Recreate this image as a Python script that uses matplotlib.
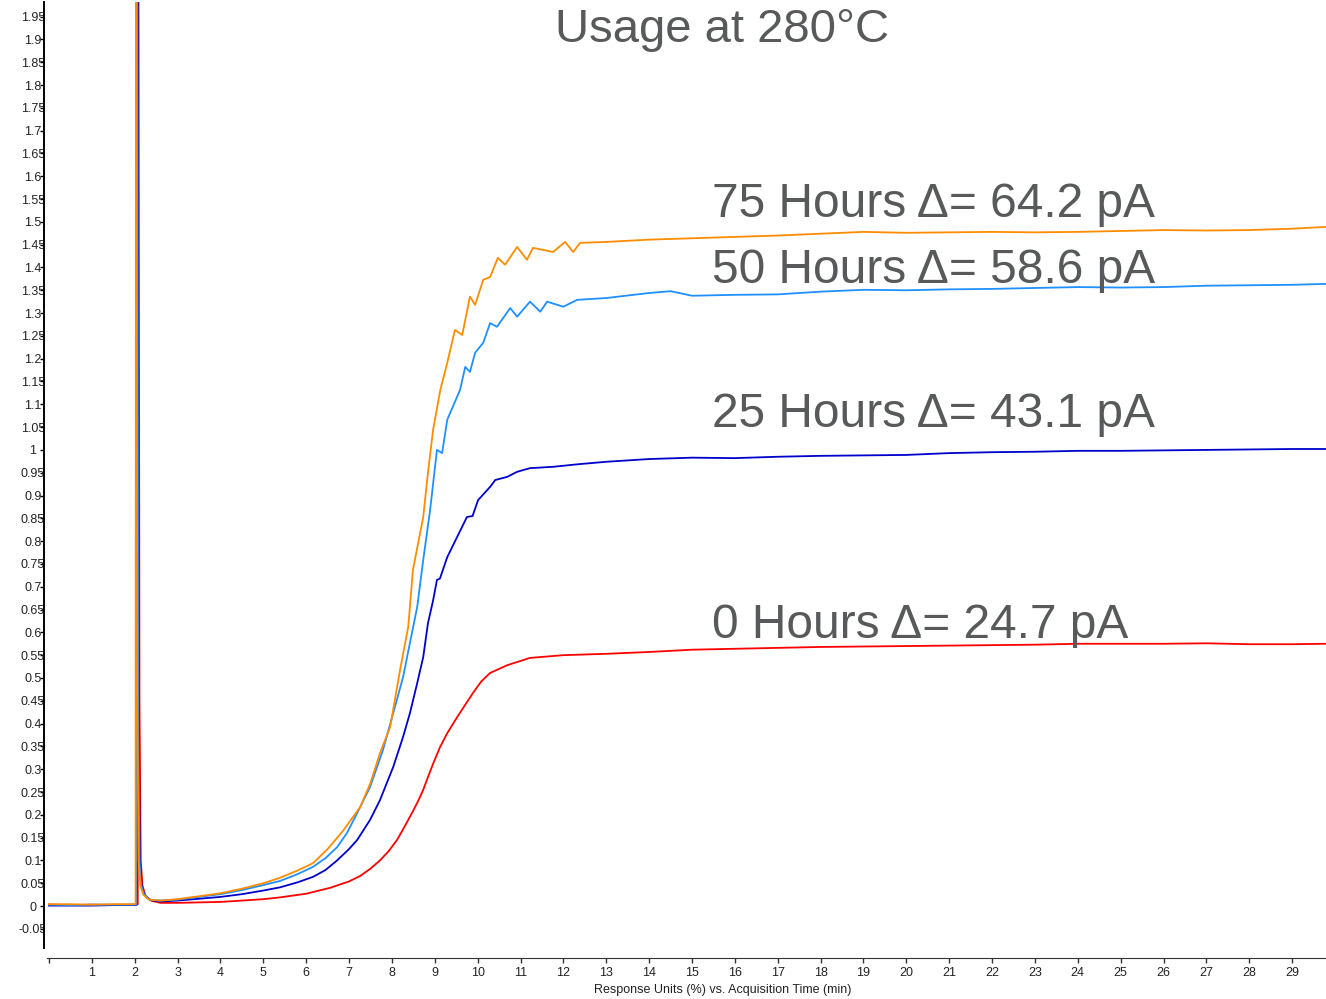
import matplotlib
matplotlib.use("Agg")
import matplotlib.pyplot as plt
import matplotlib.patches as mpatches

plt.rcParams['font.family'] = ['Liberation Sans', 'DejaVu Sans']

# 0 Hours (red)
red_x = [0, 0.5, 1.0, 1.5, 2.0, 2.07, 2.08, 2.11, 2.14, 2.18, 2.25, 2.38, 2.6, 3.0, 4.0, 4.5, 5.0,
         5.39, 6.0, 6.56, 7.0, 7.26, 7.5, 7.72, 7.92, 8.12, 8.3, 8.49, 8.62, 8.73, 8.85, 8.96,
         9.12, 9.29, 9.52, 9.7, 9.89, 10.08, 10.29, 10.69, 11.22, 12, 13, 14, 15, 16, 17, 18,
         19, 20, 21, 22, 23, 24, 25, 26, 27, 28, 29, 29.8]
red_y = [0.003, 0.002, 0.003, 0.002, 0.003, 0.004, 2.6, 0.45, 0.1, 0.045, 0.022, 0.012, 0.007,
         0.007, 0.009, 0.012, 0.015, 0.019, 0.027, 0.040, 0.054, 0.066, 0.082, 0.10, 0.12, 0.145,
         0.175, 0.208, 0.232, 0.255, 0.285, 0.312, 0.348, 0.379, 0.414, 0.44, 0.467, 0.492,
         0.511, 0.528, 0.544, 0.550, 0.553, 0.557, 0.562, 0.564, 0.566, 0.568, 0.569, 0.570,
         0.571, 0.572, 0.573, 0.575, 0.575, 0.575, 0.576, 0.574, 0.574, 0.575]

# 25 Hours (dark blue)
blue_x = [0, 0.5, 1.0, 1.5, 2.0, 2.05, 2.06, 2.09, 2.12, 2.16, 2.23, 2.36, 2.6, 3.0, 4.0, 4.5, 5.0,
          5.39, 5.8, 6.16, 6.45, 6.72, 7.0, 7.19, 7.49, 7.72, 8.03, 8.26, 8.42, 8.59, 8.73, 8.84,
          8.96, 9.05, 9.12, 9.29, 9.52, 9.75, 9.88, 10.01, 10.29, 10.41, 10.69, 10.92, 11.22,
          11.76, 12.39, 13, 14, 15, 16, 17, 18, 19, 20, 21, 22, 23, 24, 25, 26, 27, 28, 29, 29.8]
blue_y = [0.001, 0.001, 0.001, 0.002, 0.002, 0.003, 2.6, 0.45, 0.1, 0.045, 0.024, 0.013, 0.010,
          0.012, 0.020, 0.026, 0.034, 0.041, 0.052, 0.064, 0.079, 0.10, 0.125, 0.145, 0.189,
          0.232, 0.305, 0.371, 0.423, 0.489, 0.546, 0.62, 0.67, 0.715, 0.718, 0.765, 0.809,
          0.853, 0.855, 0.890, 0.919, 0.934, 0.941, 0.952, 0.960, 0.963, 0.969, 0.974, 0.980,
          0.983, 0.982, 0.985, 0.987, 0.988, 0.989, 0.993, 0.995, 0.996, 0.998, 0.998, 0.999,
          1.000, 1.001, 1.002, 1.002]

# 50 Hours (light blue)
lb_x = [0, 0.5, 1.0, 1.5, 2.0, 2.04, 2.05, 2.08, 2.11, 2.15, 2.22, 2.35, 2.6, 3.0, 4.0, 4.5, 5.0,
        5.39, 5.8, 6.16, 6.45, 6.72, 6.95, 7.19, 7.49, 7.79, 8.03, 8.26, 8.42, 8.59, 8.73, 8.89,
        9.05, 9.17, 9.29, 9.59, 9.71, 9.82, 9.94, 10.13, 10.29, 10.45, 10.76, 10.92, 11.22,
        11.46, 11.62, 12.0, 12.32, 13, 14, 14.5, 15, 16, 17, 18, 19, 20, 21, 22, 23, 24, 25,
        26, 27, 28, 29, 29.8]
lb_y = [0.003, 0.002, 0.003, 0.003, 0.003, 0.004, 2.6, 0.45, 0.1, 0.045, 0.025, 0.014, 0.012,
        0.014, 0.026, 0.035, 0.046, 0.055, 0.070, 0.086, 0.105, 0.129, 0.16, 0.204, 0.261,
        0.342, 0.423, 0.502, 0.577, 0.656, 0.759, 0.868, 1.0, 0.993, 1.066, 1.132, 1.182,
        1.171, 1.213, 1.235, 1.278, 1.270, 1.311, 1.292, 1.325, 1.303, 1.325, 1.314, 1.329,
        1.333, 1.344, 1.348, 1.338, 1.340, 1.341, 1.347, 1.351, 1.350, 1.352, 1.353, 1.355,
        1.357, 1.356, 1.357, 1.360, 1.361, 1.362, 1.364]

# 75 Hours (orange)
or_x = [0, 0.5, 1.0, 1.5, 2.0, 2.02, 2.03, 2.06, 2.09, 2.13, 2.2, 2.33, 2.6, 3.0, 4.0, 4.5, 5.0,
        5.39, 5.8, 6.16, 6.5, 6.86, 7.26, 7.5, 7.72, 7.96, 8.19, 8.38, 8.49, 8.73, 8.84, 8.96,
        9.13, 9.29, 9.47, 9.64, 9.82, 9.94, 10.13, 10.29, 10.47, 10.64, 10.92, 11.15, 11.29,
        11.76, 12.04, 12.23, 12.39, 13, 14, 15, 16, 17, 18, 19, 20, 21, 22, 23, 24, 25, 26, 27,
        28, 29, 29.8]
or_y = [0.004, 0.004, 0.003, 0.004, 0.004, 0.005, 2.6, 0.45, 0.1, 0.045, 0.025, 0.014, 0.012,
        0.015, 0.028, 0.038, 0.050, 0.062, 0.078, 0.094, 0.125, 0.165, 0.217, 0.27, 0.335,
        0.393, 0.518, 0.612, 0.737, 0.853, 0.95, 1.044, 1.132, 1.191, 1.263, 1.252, 1.336,
        1.318, 1.373, 1.379, 1.421, 1.406, 1.445, 1.417, 1.443, 1.434, 1.456, 1.434, 1.454,
        1.456, 1.461, 1.464, 1.467, 1.470, 1.474, 1.478, 1.476, 1.477, 1.478, 1.477, 1.478,
        1.480, 1.482, 1.481, 1.482, 1.485, 1.489]

labels = ["0 Hours \u0394= 24.7 pA", "25 Hours \u0394= 43.1 pA",
          "50 Hours \u0394= 58.6 pA", "75 Hours \u0394= 64.2 pA"]
label_y = [0.588, 1.050, 1.366, 1.511]
label_x = 15.47

colors = ["#FF0000", "#0000CD", "#1E90FF", "#FF8C00"]
textgray = "#58595B"

fig = plt.figure(figsize=(13.26, 9.99), dpi=100)
ax = fig.add_axes([44 / 1326, 51 / 999, 1282 / 1326, 946 / 999])

series = [(red_x, red_y), (blue_x, blue_y), (lb_x, lb_y), (or_x, or_y)]
for (xs, ys), c in zip(series, colors):
    ax.plot(xs, ys, color=c, linewidth=1.3)

for txt, ty in zip(labels, label_y):
    ax.text(label_x, ty, txt, fontsize=34.5, color=textgray, va="baseline", ha="left")

fig.text(722 / 1326, 1 - 42 / 999, "Usage at 280\u00b0C", fontsize=34, color=textgray,
         ha="center", va="baseline")

ax.set_xlim(-0.117, 29.79)
ax.set_ylim(-0.092, 1.982)

yt = [round(-0.05 + 0.05 * i, 2) for i in range(41)]
ax.set_yticks(yt, ["%g" % v for v in yt])
ax.set_xticks(range(0, 30), [""] + [str(i) for i in range(1, 30)])

ax.spines["top"].set_visible(False)
ax.spines["right"].set_visible(False)
ax.spines["left"].set_linewidth(1.4)
ax.spines["bottom"].set_position(("outward", 7.2))
ax.spines["bottom"].set_bounds(-0.05, 29.79)
ax.spines["bottom"].set_color("#333333")

ax.tick_params(axis="y", direction="out", length=3, width=1, pad=5, labelsize=9,
               labelcolor="#222222")
ax.tick_params(axis="x", direction="out", length=3.5, width=1, pad=3, labelsize=9,
               labelcolor="#222222", color="#333333")

clip = mpatches.Rectangle((0, 0), 44 / 1326, 1, transform=fig.transFigure)
for t in ax.yaxis.get_major_ticks():
    t.label1.set_horizontalalignment("center")
    t.label1.set_clip_path(clip)

fig.text(723 / 1326, 1 - 990 / 999, "Response Units (%) vs. Acquisition Time (min)",
         fontsize=9, color="#222222", ha="center", va="center")

fig.savefig("out.png", dpi=100)
